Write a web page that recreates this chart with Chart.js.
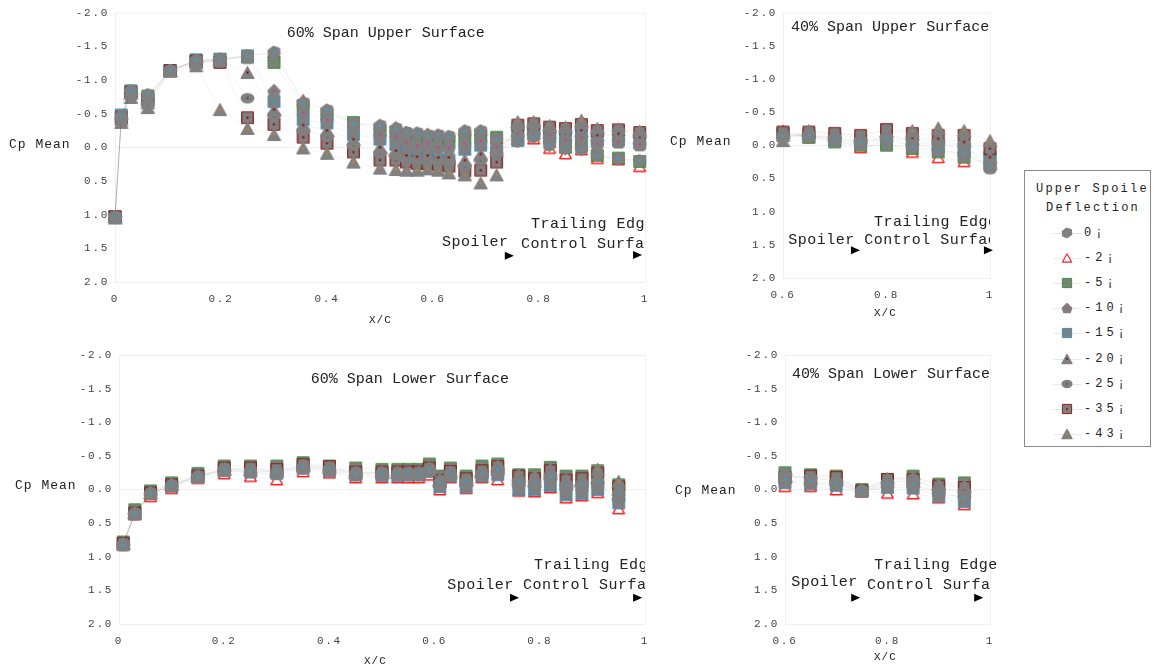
<!DOCTYPE html>
<html>
<head>
<meta charset="utf-8">
<script src="https://cdn.jsdelivr.net/npm/chart.js@4"></script>
<style>
  body { margin: 0; background: #fff; font-family: "Liberation Mono", "Courier New", monospace; color: #222; }
  #wrap { position: relative; width: 1165px; height: 672px; overflow: hidden; }
  canvas { position: absolute; }
  .lbl { position: absolute; white-space: nowrap; font-size: 13px; letter-spacing: 1px; line-height: 16px; color: #222; }
  .xc { font-size: 11px; letter-spacing: 1px; }
  #legend { position: absolute; left: 1024px; top: 170px; width: 125px; height: 275px; border: 1px solid #8a8a8a; overflow: hidden; }
  #legend .t { position: absolute; white-space: nowrap; font-size: 12px; letter-spacing: 2.2px; line-height: 16px; }
  #legend .it { position: absolute; white-space: nowrap; font-size: 12px; letter-spacing: 4px; line-height: 16px; }
  #legend .ln { position: absolute; height: 1px; background: #e8e8e8; }
</style>
</head>
<body>
<div id="wrap">
  <canvas id="c1" width="660" height="330" style="left:0;top:0"></canvas>
  <canvas id="c2" width="350" height="330" style="left:660px;top:0"></canvas>
  <canvas id="c3" width="660" height="330" style="left:0;top:340px"></canvas>
  <canvas id="c4" width="350" height="330" style="left:660px;top:340px"></canvas>

  <div class="lbl" style="left:9px;top:137px">Cp Mean</div>
  <div class="lbl" style="left:670px;top:134px">Cp Mean</div>
  <div class="lbl" style="left:15px;top:478px">Cp Mean</div>
  <div class="lbl" style="left:675px;top:483px">Cp Mean</div>
  <div class="lbl xc" style="left:369px;top:312px">X/C</div>
  <div class="lbl xc" style="left:874px;top:305px">X/C</div>
  <div class="lbl xc" style="left:364px;top:653px">X/C</div>
  <div class="lbl xc" style="left:874px;top:649px">X/C</div>

  <div id="legend"></div>
</div>

<script>
const FONT = '"Liberation Mono", "Courier New", monospace';

// Deflexion du spoiler (legende)
const seriesLabels = ['0¡', '-2¡', '-5¡', '-10¡', '-15¡', '-20¡', '-25¡', '-35¡', '-43¡'];

const yTicks = [-2, -1.5, -1, -0.5, 0, 0.5, 1, 1.5, 2];

// 60% span, extrados
const xUpper60 = [0, 0.012, 0.03, 0.062, 0.104, 0.153, 0.198, 0.25, 0.30, 0.355, 0.40, 0.45, 0.50, 0.53, 0.55,
                  0.57, 0.59, 0.61, 0.63, 0.66, 0.69, 0.72, 0.76, 0.79, 0.82, 0.85, 0.88, 0.91, 0.95, 0.99];
const cpUpper60 = [
  [1.03, -0.47, -0.84, -0.78, -1.14, -1.29, -1.31, -1.36, -1.41, -0.66, -0.55, -0.35, -0.32, -0.28, -0.22, -0.21, -0.18, -0.18, -0.16, -0.24, -0.24, -0.12, -0.09, -0.15, -0.03, 0.02, 0.03, 0.12, 0.17, 0.20],
  [1.03, -0.46, -0.83, -0.77, -1.14, -1.29, -1.31, -1.36, -1.41, -0.70, -0.56, -0.36, -0.33, -0.30, -0.22, -0.21, -0.20, -0.18, -0.16, -0.25, -0.25, -0.13, -0.12, -0.13, 0.01, 0.09, 0.03, 0.16, 0.18, 0.28],
  [1.03, -0.46, -0.82, -0.76, -1.14, -1.28, -1.30, -1.34, -1.26, -0.62, -0.49, -0.37, -0.25, -0.22, -0.15, -0.10, -0.15, -0.09, -0.09, -0.15, -0.18, -0.15, -0.27, -0.20, -0.15, 0.00, -0.04, 0.12, 0.16, 0.21],
  [1.03, -0.45, -0.82, -0.74, -1.14, -1.28, -1.30, -1.34, -0.84, -0.52, -0.41, -0.28, -0.18, -0.15, -0.08, -0.02, -0.05, 0.00, 0.01, -0.05, -0.09, 0.00, -0.20, -0.22, -0.18, -0.10, -0.14, -0.05, -0.08, -0.04],
  [1.03, -0.48, -0.84, -0.72, -1.14, -1.30, -1.31, -1.36, -0.68, -0.41, -0.36, -0.19, -0.12, -0.04, 0.09, 0.09, 0.09, 0.19, 0.19, 0.03, -0.03, 0.05, -0.10, -0.25, -0.15, -0.12, -0.20, -0.09, -0.10, -0.06],
  [1.03, -0.42, -0.80, -0.66, -1.14, -1.26, -1.29, -1.11, -0.56, -0.33, -0.25, -0.12, 0.00, 0.05, 0.12, 0.14, 0.12, 0.15, 0.15, 0.19, 0.10, 0.05, -0.25, -0.28, -0.22, -0.18, -0.25, -0.18, -0.20, -0.14],
  [1.03, -0.42, -0.80, -0.64, -1.14, -1.26, -1.28, -0.73, -0.47, -0.25, -0.16, -0.03, 0.09, 0.12, 0.18, 0.20, 0.20, 0.20, 0.22, 0.28, 0.19, 0.09, -0.30, -0.32, -0.25, -0.24, -0.30, -0.22, -0.24, -0.18],
  [1.03, -0.44, -0.82, -0.70, -1.14, -1.28, -1.26, -0.44, -0.34, -0.15, -0.06, 0.07, 0.19, 0.19, 0.22, 0.24, 0.24, 0.26, 0.28, 0.35, 0.34, 0.22, -0.33, -0.35, -0.30, -0.28, -0.34, -0.25, -0.26, -0.22],
  [1.05, -0.37, -0.74, -0.59, -1.13, -1.21, -0.56, -0.28, -0.19, 0.01, 0.09, 0.22, 0.31, 0.33, 0.34, 0.34, 0.32, 0.34, 0.38, 0.41, 0.53, 0.41, -0.38, -0.38, -0.32, -0.30, -0.40, -0.28, -0.27, -0.24]
];

// 40% span, extrados
const xUpper40 = [0.6, 0.65, 0.7, 0.75, 0.8, 0.85, 0.9, 0.95, 1.0];
const cpUpper40 = [
  [-0.15, -0.15, -0.10, -0.05, -0.10, 0.02, 0.08, 0.12, 0.30],
  [-0.22, -0.12, -0.08, 0.03, -0.05, 0.10, 0.18, 0.24, 0.22],
  [-0.18, -0.12, -0.05, 0.00, 0.00, 0.05, 0.10, 0.18, 0.18],
  [-0.15, -0.14, -0.08, -0.02, -0.10, 0.00, 0.05, 0.14, 0.32],
  [-0.18, -0.15, -0.10, -0.05, -0.12, -0.05, 0.00, 0.05, 0.22],
  [-0.15, -0.18, -0.15, -0.12, -0.15, -0.10, -0.10, -0.05, 0.18],
  [-0.12, -0.15, -0.12, -0.08, -0.12, -0.08, -0.05, -0.02, 0.36],
  [-0.20, -0.20, -0.18, -0.15, -0.24, -0.18, -0.15, -0.15, 0.05],
  [-0.07, -0.22, -0.18, -0.14, -0.22, -0.22, -0.26, -0.22, -0.07]
];

// 60% span, intrados
const xLower60 = [0.008, 0.03, 0.06, 0.10, 0.15, 0.20, 0.25, 0.30, 0.35, 0.40, 0.45, 0.50, 0.53, 0.55,
                  0.57, 0.59, 0.61, 0.63, 0.66, 0.69, 0.72, 0.76, 0.79, 0.82, 0.85, 0.88, 0.91, 0.95];
const cpLower60 = [
  [0.82, 0.36, 0.06, -0.06, -0.19, -0.30, -0.28, -0.26, -0.34, -0.31, -0.24, -0.24, -0.24, -0.24, -0.24, -0.30, -0.10, -0.24, -0.12, -0.24, -0.30, -0.12, -0.10, -0.20, -0.06, -0.08, -0.12, 0.05],
  [0.82, 0.37, 0.10, -0.02, -0.17, -0.24, -0.20, -0.15, -0.27, -0.25, -0.18, -0.18, -0.18, -0.18, -0.18, -0.22, 0.00, -0.18, -0.02, -0.18, -0.15, 0.02, 0.03, -0.03, 0.12, 0.09, 0.04, 0.28],
  [0.78, 0.30, 0.02, -0.10, -0.24, -0.35, -0.35, -0.35, -0.40, -0.35, -0.32, -0.30, -0.30, -0.30, -0.30, -0.38, -0.20, -0.32, -0.20, -0.35, -0.38, -0.22, -0.22, -0.33, -0.20, -0.20, -0.28, -0.07],
  [0.82, 0.36, 0.06, -0.06, -0.19, -0.29, -0.28, -0.26, -0.33, -0.30, -0.23, -0.23, -0.23, -0.23, -0.23, -0.28, -0.08, -0.22, -0.10, -0.22, -0.25, -0.05, -0.06, -0.15, 0.00, 0.00, -0.05, 0.10],
  [0.82, 0.36, 0.06, -0.05, -0.19, -0.28, -0.26, -0.24, -0.32, -0.28, -0.22, -0.21, -0.21, -0.22, -0.22, -0.27, -0.04, -0.20, -0.04, -0.20, -0.22, 0.00, 0.00, -0.06, 0.08, 0.06, 0.00, 0.20],
  [0.80, 0.34, 0.04, -0.08, -0.20, -0.31, -0.30, -0.28, -0.36, -0.33, -0.25, -0.25, -0.25, -0.25, -0.25, -0.31, -0.12, -0.26, -0.14, -0.26, -0.30, -0.15, -0.12, -0.24, -0.10, -0.12, -0.18, 0.00],
  [0.82, 0.36, 0.07, -0.05, -0.18, -0.28, -0.25, -0.22, -0.30, -0.28, -0.20, -0.20, -0.20, -0.20, -0.20, -0.26, -0.06, -0.20, -0.08, -0.20, -0.26, -0.10, -0.06, -0.18, -0.04, -0.06, -0.10, 0.15],
  [0.80, 0.35, 0.05, -0.07, -0.20, -0.32, -0.32, -0.30, -0.37, -0.34, -0.26, -0.26, -0.26, -0.26, -0.26, -0.32, -0.14, -0.27, -0.16, -0.28, -0.34, -0.20, -0.16, -0.28, -0.14, -0.16, -0.24, -0.04],
  [0.80, 0.35, 0.05, -0.08, -0.20, -0.30, -0.30, -0.27, -0.35, -0.32, -0.25, -0.25, -0.25, -0.25, -0.25, -0.32, -0.15, -0.25, -0.14, -0.27, -0.35, -0.22, -0.20, -0.30, -0.15, -0.15, -0.30, -0.12]
];

// 40% span, intrados
const xLower40 = [0.6, 0.65, 0.7, 0.75, 0.8, 0.85, 0.9, 0.95];
const cpLower40 = [
  [-0.15, -0.12, -0.10, 0.02, -0.08, -0.08, 0.05, 0.12],
  [-0.05, -0.05, 0.00, 0.03, 0.05, 0.06, 0.12, 0.22],
  [-0.25, -0.22, -0.20, 0.00, -0.15, -0.20, -0.08, -0.10],
  [-0.12, -0.10, -0.08, 0.02, -0.05, -0.05, 0.08, 0.10],
  [-0.10, -0.08, -0.06, 0.02, -0.03, -0.02, 0.10, 0.18],
  [-0.20, -0.15, -0.15, 0.01, -0.12, -0.12, -0.02, 0.02],
  [-0.22, -0.18, -0.12, 0.03, -0.10, -0.15, 0.00, 0.05],
  [-0.18, -0.20, -0.18, 0.02, -0.15, -0.15, -0.05, -0.03],
  [-0.20, -0.18, -0.17, 0.01, -0.16, -0.18, -0.08, -0.06]
];

// style des marqueurs
const markerShape = ['blob', 'openTri', 'square', 'blob2', 'square', 'tri', 'ellipse', 'square', 'tri'];
const markerEdge  = [null, '#ff1a1a', '#2f8f2f', null, '#3b8bbd', null, null, '#8b1010', null];
const markerDot   = ['#1ab0ea', null, '#22b022', '#e0309a', '#17a6e8', '#8b0000', '#2d6a2d', '#8b0000', '#c8862a'];
// ordre de dessin (plus grand = dessous)
const drawOrder   = [1, 9, 8, 2, 7, 3, 4, 6, 5];

function makeMarker(i, sz) {
    const s = sz || 15, k = s / 13;
    const c = document.createElement('canvas');
    c.width = s; c.height = s;
    const g = c.getContext('2d');
    g.scale(k, k);
    const grey = '#808080';
    const poly = (pts) => {
        g.beginPath();
        pts.forEach((p, j) => j ? g.lineTo(p[0], p[1]) : g.moveTo(p[0], p[1]));
        g.closePath();
    };
    g.lineJoin = 'round';
    switch (markerShape[i]) {
        case 'blob':
            poly([[1.5, 5], [6, 1.5], [11, 3], [11.5, 8], [6.5, 11.5], [2, 9.5]]);
            g.fillStyle = grey; g.fill(); g.strokeStyle = grey; g.lineWidth = 1.5; g.stroke();
            break;
        case 'blob2':
            poly([[6.5, 1.5], [11.5, 6.5], [10, 11.5], [3, 11.5], [1.5, 6.5]]);
            g.fillStyle = grey; g.fill(); g.strokeStyle = grey; g.lineWidth = 1.5; g.stroke();
            break;
        case 'openTri':
            poly([[6.5, 2], [11.5, 11], [1.5, 11]]);
            g.fillStyle = '#fff'; g.fill(); g.strokeStyle = markerEdge[i]; g.lineWidth = 1.2; g.stroke();
            break;
        case 'tri':
            poly([[6.5, 1.5], [12, 11.5], [1, 11.5]]);
            g.fillStyle = grey; g.fill(); g.strokeStyle = grey; g.lineWidth = 1.2; g.stroke();
            break;
        case 'square':
            g.fillStyle = grey; g.fillRect(1.5, 1.5, 10, 10);
            g.strokeStyle = markerEdge[i]; g.lineWidth = 1; g.strokeRect(1.5, 1.5, 10, 10);
            break;
        case 'ellipse':
            g.beginPath(); g.ellipse(6.5, 6.5, 6, 4.5, 0, 0, Math.PI * 2);
            g.fillStyle = grey; g.fill();
            break;
    }
    if (markerDot[i]) {
        g.fillStyle = markerDot[i];
        g.fillRect(5.6, 5.6, 1.8, 1.8);
    }
    return c;
}

// cadre + annotations
const framePlugin = {
    id: 'frame',
    beforeDraw(chart) {
        chart.ctx.letterSpacing = '1.7px';
    },
    beforeDatasetsDraw(chart) {
        const a = chart.chartArea, ctx = chart.ctx;
        ctx.save();
        ctx.strokeStyle = '#f0f0f0';
        ctx.lineWidth = 1;
        ctx.strokeRect(a.left + 0.5, a.top + 0.5, a.right - a.left, a.bottom - a.top);
        ctx.restore();
    }
};

const notesPlugin = {
    id: 'notes',
    afterDraw(chart, args, opts) {
        const ctx = chart.ctx, xs = chart.scales.x, ys = chart.scales.y;
        ctx.save();
        (opts.items || []).forEach(n => {
            const px = xs.getPixelForValue(n.x), py = ys.getPixelForValue(n.y);
            if (n.arrow) {
                ctx.fillStyle = '#000';
                ctx.beginPath();
                ctx.moveTo(px - 4, py - 4);
                ctx.lineTo(px + 5, py);
                ctx.lineTo(px - 4, py + 4);
                ctx.closePath();
                ctx.fill();
                return;
            }
            ctx.save();
            if (n.clip != null) {
                ctx.beginPath();
                ctx.rect(0, 0, xs.getPixelForValue(n.clip), chart.height);
                ctx.clip();
            }
            ctx.letterSpacing = n.center ? '0px' : '0.5px';
            ctx.font = '15px ' + FONT;
            ctx.fillStyle = '#222';
            ctx.textBaseline = 'middle';
            ctx.textAlign = n.center ? 'center' : 'left';
            ctx.fillText(n.text, px, py);
            ctx.restore();
        });
        ctx.restore();
    }
};

function makeChart(id, p) {
    const datasets = seriesLabels.map((lab, i) => ({
        label: lab,
        data: p.xs.map((x, k) => ({ x: x, y: p.cp[i][k] })),
        order: drawOrder[i],
        showLine: true,
        borderColor: 'rgba(0,0,0,0.045)',
        borderWidth: 1,
        pointStyle: makeMarker(i),
        pointRadius: 7,
        clip: false
    }));

    return new Chart(document.getElementById(id), {
        type: 'scatter',
        data: { datasets: datasets },
        options: {
            responsive: false,
            animation: false,
            layout: { autoPadding: false, padding: { top: p.padTop, right: p.padRight, left: 0, bottom: 0 } },
            plugins: {
                legend: { display: false },
                tooltip: { enabled: false },
                notes: { items: p.notes }
            },
            scales: {
                x: {
                    type: 'linear',
                    min: p.xMin, max: p.xMax,
                    afterFit(s) { s.height = p.xH; },
                    border: { display: false },
                    grid: { display: false, drawTicks: false },
                    ticks: {
                        stepSize: 0.2,
                        padding: 10,
                        color: '#444',
                        font: { family: FONT, size: 11 },
                        callback: v => (Math.abs(v) < 1e-9 ? '0' : Math.abs(v - 1) < 1e-9 ? '1' : v.toFixed(1))
                    }
                },
                y: {
                    type: 'linear',
                    reverse: true,
                    min: -2, max: 2,
                    afterFit(s) { s.width = p.yW; },
                    afterBuildTicks(s) { s.ticks = yTicks.map(v => ({ value: v })); },
                    border: { display: false },
                    grid: {
                        drawTicks: false,
                        color: c => (c.tick && c.tick.value === 0 ? '#f0f0f0' : 'rgba(0,0,0,0)')
                    },
                    ticks: {
                        padding: 6,
                        color: '#444',
                        font: { family: FONT, size: 11 },
                        callback: v => v.toFixed(1)
                    }
                }
            }
        },
        plugins: [framePlugin, notesPlugin]
    });
}

makeChart('c1', {
    xs: xUpper60, cp: cpUpper60, xMin: 0, xMax: 1,
    yW: 115, xH: 48, padTop: 12, padRight: 15,
    notes: [
        { text: '60% Span Upper Surface', x: 0.511, y: -1.70, center: true },
        { text: 'Trailing Edge', x: 0.785, y: 1.14, clip: 1 },
        { text: 'Spoiler', x: 0.617, y: 1.40, clip: 0.745 },
        { text: 'Control Surface', x: 0.766, y: 1.44, clip: 1 },
        { arrow: true, x: 0.743, y: 1.61 },
        { arrow: true, x: 0.985, y: 1.60 }
    ]
});

makeChart('c2', {
    xs: xUpper40, cp: cpUpper40, xMin: 0.6, xMax: 1,
    yW: 123, xH: 52, padTop: 12, padRight: 20,
    notes: [
        { text: '40% Span Upper Surface', x: 0.807, y: -1.78, center: true },
        { text: 'Trailing Edge', x: 0.776, y: 1.16, clip: 1 },
        { text: 'Spoiler', x: 0.61, y: 1.43 },
        { text: 'Control Surface', x: 0.757, y: 1.43, clip: 1 },
        { arrow: true, x: 0.739, y: 1.58 },
        { arrow: true, x: 0.996, y: 1.58 }
    ]
});

makeChart('c3', {
    xs: xLower60, cp: cpLower60, xMin: 0, xMax: 1,
    yW: 119, xH: 46, padTop: 15, padRight: 15,
    notes: [
        { text: '60% Span Lower Surface', x: 0.553, y: -1.64, center: true },
        { text: 'Trailing Edge', x: 0.789, y: 1.12, clip: 1 },
        { text: 'Spoiler', x: 0.624, y: 1.42, clip: 0.75 },
        { text: 'Control Surface', x: 0.768, y: 1.42, clip: 1 },
        { arrow: true, x: 0.751, y: 1.61 },
        { arrow: true, x: 0.985, y: 1.61 }
    ]
});

makeChart('c4', {
    xs: xLower40, cp: cpLower40, xMin: 0.6, xMax: 1,
    yW: 125, xH: 46, padTop: 15, padRight: 20,
    notes: [
        { text: '40% Span Lower Surface', x: 0.807, y: -1.72, center: true },
        { text: 'Trailing Edge', x: 0.774, y: 1.12 },
        { text: 'Spoiler', x: 0.612, y: 1.37 },
        { text: 'Control Surface', x: 0.76, y: 1.42, clip: 1 },
        { arrow: true, x: 0.737, y: 1.61 },
        { arrow: true, x: 0.977, y: 1.61 }
    ]
});

// legende
const legend = document.getElementById('legend');
legend.innerHTML =
    '<div class="t" style="left:11px;top:10px">Upper Spoiler</div>' +
    '<div class="t" style="left:21px;top:29px">Deflection</div>';
seriesLabels.forEach((lab, i) => {
    const cy = 62 + i * 25.1;
    const ln = document.createElement('div');
    ln.className = 'ln';
    ln.style.cssText = 'left:28px;width:28px;top:' + Math.round(cy) + 'px';
    legend.appendChild(ln);
    const m = makeMarker(i, 12);
    m.style.cssText = 'position:absolute;left:' + (42 - 6) + 'px;top:' + (cy - 6) + 'px';
    legend.appendChild(m);
    const t = document.createElement('div');
    t.className = 'it';
    t.style.left = '59px';
    t.style.top = (cy - 8) + 'px';
    t.textContent = lab;
    legend.appendChild(t);
});
</script>
</body>
</html>
